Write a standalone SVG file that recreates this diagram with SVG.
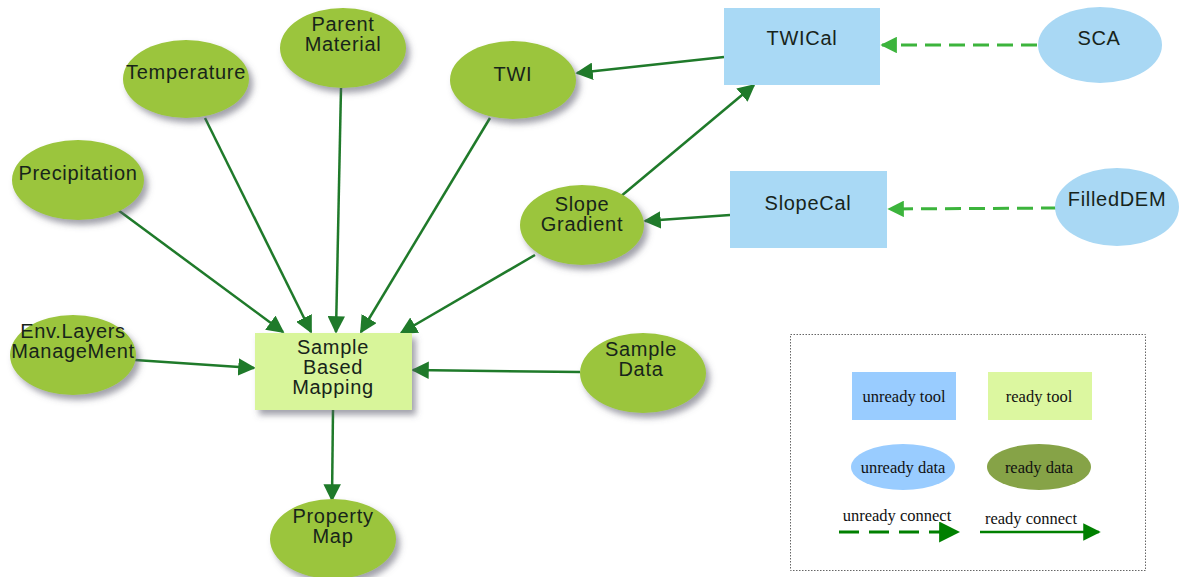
<svg xmlns="http://www.w3.org/2000/svg" width="1180" height="577" viewBox="0 0 1180 577">
  <style>
    .lbl { font-family: "Liberation Sans", Arial, sans-serif; font-size: 20px; fill: #17241a; text-anchor: middle; letter-spacing: 0.7px; }
    .data { fill: #9bc53d; filter: url(#shadow); }
    .udata { fill: #a9d8f4; }
    .tool { fill: #d8f59a; filter: url(#shadow); }
    .utool { fill: #a9d9f5; }
    .edge { stroke: #1f7a2a; stroke-width: 2.5; fill: none; marker-end: url(#arrow); }
    .dash { stroke: #3cb43c; stroke-width: 3; fill: none; stroke-dasharray: 16 8; marker-end: url(#arrowLight); }
    .leg { font-family: "Liberation Serif", "Times New Roman", serif; font-size: 16.5px; fill: #111; text-anchor: middle; }
  </style>
  <defs>
    <filter id="shadow" x="-20%" y="-20%" width="150%" height="150%">
      <feDropShadow dx="4" dy="5" stdDeviation="3" flood-color="#556" flood-opacity="0.55"/>
    </filter>
    <marker id="arrow" viewBox="0 0 10 10" refX="9" refY="5" markerWidth="7" markerHeight="7" markerUnits="strokeWidth" orient="auto">
      <path d="M0,0 L10,5 L0,10 z" fill="#1f7a2a"/>
    </marker>
    <marker id="arrowLight" viewBox="0 0 10 10" refX="9" refY="5" markerWidth="5.5" markerHeight="5.5" markerUnits="strokeWidth" orient="auto">
      <path d="M0,0 L10,5 L0,10 z" fill="#3cb43c"/>
    </marker>
    <marker id="legArrow" viewBox="0 0 10 10" refX="9" refY="5" markerWidth="7" markerHeight="7" markerUnits="strokeWidth" orient="auto">
      <path d="M0,0 L10,5 L0,10 z" fill="#008000"/>
    </marker>
  </defs>
  <rect width="1180" height="577" fill="#ffffff"/>

  <!-- connectors -->
  <g id="connectors">
    <line class="edge" x1="205" y1="118" x2="311" y2="332"/>
    <line class="edge" x1="341" y1="88" x2="336" y2="332"/>
    <line class="edge" x1="490" y1="118" x2="361" y2="332"/>
    <line class="edge" x1="118" y1="210" x2="283" y2="332"/>
    <line class="edge" x1="535" y1="255" x2="401" y2="333"/>
    <line class="edge" x1="135" y1="360" x2="254" y2="368"/>
    <line class="edge" x1="580" y1="372" x2="413" y2="370"/>
    <line class="edge" x1="333" y1="410" x2="332" y2="500"/>
    <line class="edge" x1="724" y1="57" x2="577" y2="73"/>
    <line class="edge" x1="620" y1="197" x2="754" y2="85"/>
    <line class="edge" x1="730" y1="215" x2="645" y2="221"/>
    <line class="dash" x1="1037" y1="45" x2="882" y2="45"/>
    <line class="dash" x1="1057" y1="208" x2="889" y2="209"/>
  </g>

  <!-- data nodes -->
  <g id="node-parent-material">
    <ellipse class="data" cx="343" cy="48" rx="63" ry="40"/>
    <text class="lbl" x="343" y="31">Parent</text>
    <text class="lbl" x="343" y="51">Material</text>
  </g>
  <g id="node-temperature">
    <ellipse class="data" cx="186" cy="79" rx="63" ry="39"/>
    <text class="lbl" x="186" y="79">Temperature</text>
  </g>
  <g id="node-precipitation">
    <ellipse class="data" cx="78" cy="180" rx="66" ry="40"/>
    <text class="lbl" x="78" y="180">Precipitation</text>
  </g>
  <g id="node-twi">
    <ellipse class="data" cx="513" cy="80" rx="63" ry="39"/>
    <text class="lbl" x="513" y="81">TWI</text>
  </g>
  <g id="node-slope-gradient">
    <ellipse class="data" cx="582" cy="225" rx="62" ry="40"/>
    <text class="lbl" x="582" y="211">Slope</text>
    <text class="lbl" x="582" y="231">Gradient</text>
  </g>
  <g id="node-env-layers">
    <ellipse class="data" cx="73" cy="355" rx="63" ry="40"/>
    <text class="lbl" x="73" y="338">Env.Layers</text>
    <text class="lbl" x="73" y="358">ManageMent</text>
  </g>
  <g id="node-sample-data">
    <ellipse class="data" cx="643" cy="373" rx="63" ry="40"/>
    <text class="lbl" x="641" y="356">Sample</text>
    <text class="lbl" x="641" y="376">Data</text>
  </g>
  <g id="node-property-map">
    <ellipse class="data" cx="333" cy="539" rx="63" ry="40"/>
    <text class="lbl" x="333" y="523">Property</text>
    <text class="lbl" x="333" y="543">Map</text>
  </g>

  <!-- tool nodes -->
  <g id="node-sample-based-mapping">
    <rect class="tool" x="255" y="333" width="157" height="77"/>
    <text class="lbl" x="333" y="354">Sample</text>
    <text class="lbl" x="333" y="374">Based</text>
    <text class="lbl" x="333" y="394">Mapping</text>
  </g>
  <g id="node-twical">
    <rect class="utool" x="724" y="8" width="156" height="77"/>
    <text class="lbl" x="802" y="45">TWICal</text>
  </g>
  <g id="node-slopecal">
    <rect class="utool" x="730" y="171" width="157" height="77"/>
    <text class="lbl" x="808" y="210">SlopeCal</text>
  </g>

  <!-- unready data -->
  <g id="node-sca">
    <ellipse class="udata" cx="1100" cy="45" rx="62" ry="38"/>
    <text class="lbl" x="1099" y="45">SCA</text>
  </g>
  <g id="node-filleddem">
    <ellipse class="udata" cx="1117" cy="207" rx="62" ry="39"/>
    <text class="lbl" x="1117" y="206">FilledDEM</text>
  </g>

  <!-- legend -->
  <g id="legend">
    <rect x="790.5" y="334.5" width="355" height="236" fill="none" stroke="#666" stroke-width="1" stroke-dasharray="1.5 1.5"/>
    <rect x="852" y="372" width="104" height="48" fill="#99ccff"/>
    <text class="leg" x="904" y="402">unready tool</text>
    <rect x="988" y="372" width="104" height="48" fill="#dcf7a0"/>
    <text class="leg" x="1039" y="402">ready tool</text>
    <ellipse cx="903" cy="467" rx="52" ry="23" fill="#99ccff"/>
    <text class="leg" x="903" y="473">unready data</text>
    <ellipse cx="1039" cy="467" rx="52" ry="23" fill="#86a347"/>
    <text class="leg" x="1039" y="473">ready data</text>
    <text class="leg" x="897" y="521">unready connect</text>
    <line x1="839" y1="532" x2="958" y2="532" stroke="#008000" stroke-width="3" stroke-dasharray="20 10" marker-end="url(#legArrow)"/>
    <text class="leg" x="1031" y="524">ready connect</text>
    <line x1="980" y1="532" x2="1099" y2="532" stroke="#008000" stroke-width="2.5" marker-end="url(#legArrow)"/>
  </g>
</svg>
